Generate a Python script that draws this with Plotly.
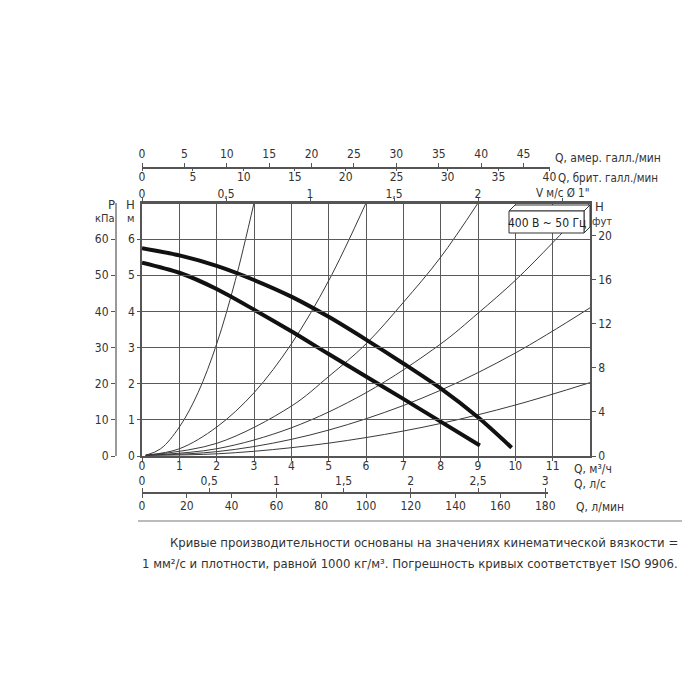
import plotly.graph_objects as go

# ---------------- data ----------------
q_ticks = list(range(0, 12))                      # Q, m3/h
h_ticks = list(range(0, 7))                       # H, m
p_ticks = [0, 10, 20, 30, 40, 50, 60]             # P, kPa
ft_ticks = [0, 4, 8, 12, 16, 20]                  # H, ft
us_gpm_ticks = [0, 5, 10, 15, 20, 25, 30, 35, 40, 45]
uk_gpm_ticks = [0, 5, 10, 15, 20, 25, 30, 35, 40]
v_ticks = [0, 0.5, 1, 1.5, 2, 2.5]
v_labels = ["0", "0,5", "1", "1,5", "2", ""]
lps_ticks = [0, 0.5, 1, 1.5, 2, 2.5, 3]
lps_labels = ["0", "0,5", "1", "1,5", "2", "2,5", "3"]
lpm_ticks = [0, 20, 40, 60, 80, 100, 120, 140, 160, 180]

pump_upper_q = [0, 1, 2, 3, 4, 5, 6, 7, 8, 9, 9.9]
pump_upper_h = [5.75, 5.55, 5.26, 4.87, 4.41, 3.85, 3.22, 2.56, 1.87, 1.07, 0.23]
pump_lower_q = [0, 1, 2, 3, 4, 5, 6, 7, 8, 9.05]
pump_lower_h = [5.35, 5.07, 4.62, 4.05, 3.45, 2.82, 2.20, 1.58, 0.95, 0.29]

sys1_q = [0.1, 0.5, 1, 1.5, 2, 2.5, 3.0]
sys1_h = [0.02, 0.2, 0.8, 1.75, 3.1, 4.86, 7.0]
sys2_q = [0.1, 1, 2, 3, 4, 5, 6]
sys2_h = [0.02, 0.2, 0.8, 1.75, 3.1, 4.85, 7.0]
sys3_q = [0.1, 2, 4, 5, 6, 7, 8, 9]
sys3_h = [0.02, 0.35, 1.38, 2.2, 3.1, 4.25, 5.5, 7.0]
sys4_q = [0.1, 2, 4, 6, 8, 9, 10, 11, 12]
sys4_h = [0.02, 0.2, 0.78, 1.75, 3.1, 3.95, 4.86, 5.9, 7.0]
sys5_q = [0.1, 2, 4, 6, 8, 10, 12]
sys5_h = [0.02, 0.12, 0.46, 1.03, 1.82, 2.85, 4.1]
sys6_q = [0.1, 2, 4, 6, 8, 10, 12]
sys6_h = [0.02, 0.06, 0.23, 0.51, 0.9, 1.41, 2.03]

# unit conversions (m3/h per unit)
US_GPM = 0.2271
UK_GPM = 0.2728
LPS = 3.6
LPM = 0.06
V_1IN = 4.5       # m3/h per m/s, as drawn on the chart
M_TO_FT = 3.28084

# ---------------- layout geometry (page pixels) ----------------
OFF = 8                # page body margin
W = H = 700 - OFF
X0, X1 = 142, 590      # plot area left/right
YB, YT = 456, 203      # plot area bottom/top
Q_MAX, H_MAX = 12, 7
PXQ = (X1 - X0) / Q_MAX


def fx(px):
    return (px - OFF) / W


def fy(py):
    return 1 - (py - OFF) / H


FONT = "Liberation Sans Narrow, DejaVu Sans Condensed, Arial Narrow, sans-serif"
TXT = "#333333"
AX = "#555555"
tickfont = dict(family=FONT, size=12, color=TXT)

fig = go.Figure()

sys_curves = [(sys1_q, sys1_h), (sys2_q, sys2_h), (sys3_q, sys3_h),
              (sys4_q, sys4_h), (sys5_q, sys5_h), (sys6_q, sys6_h)]
for q, h in sys_curves:
    fig.add_trace(go.Scatter(x=q, y=h, mode="lines",
                             line=dict(color="#3a3a3a", width=1, shape="spline", smoothing=1.0),
                             showlegend=False, hoverinfo="skip"))

for q, h in [(pump_upper_q, pump_upper_h), (pump_lower_q, pump_lower_h)]:
    fig.add_trace(go.Scatter(x=q, y=h, mode="lines",
                             line=dict(color="#111111", width=4, shape="spline", smoothing=0.8),
                             showlegend=False, hoverinfo="skip"))

# invisible helper traces so the extra axes get created
for xa, ya in [("x", "y2"), ("x", "y3"), ("x2", "y"), ("x3", "y"), ("x4", "y"), ("x5", "y"), ("x6", "y")]:
    fig.add_trace(go.Scatter(x=[0], y=[0], xaxis=xa, yaxis=ya, mode="markers",
                             marker=dict(opacity=0, size=1), showlegend=False, hoverinfo="skip"))

dom_x = [fx(X0), fx(X1)]
dom_y = [fy(YB), fy(YT)]

gpm_end_px = 550
lps_end_px = 548
q_gpm_end = (gpm_end_px - X0) / PXQ
q_lps_end = (lps_end_px - X0) / PXQ

common = dict(showgrid=False, zeroline=False, showline=True, linecolor=AX, linewidth=1.5,
              ticks="outside", ticklen=4, tickwidth=1.2, tickcolor=AX, tickfont=tickfont,
              fixedrange=True, automargin=False)

fig.update_layout(
    template="none",
    width=W, height=H,
    margin=dict(l=0, r=0, t=0, b=0, pad=0),
    paper_bgcolor="white", plot_bgcolor="rgba(0,0,0,0)",
    showlegend=False,
    xaxis=dict(domain=dom_x, range=[0, Q_MAX], anchor="y",
               showgrid=True, gridcolor="#5a5a5a", gridwidth=1.3,
               zeroline=False, showline=True, mirror=True, linecolor=AX, linewidth=1.5,
               tickvals=q_ticks, ticktext=[str(v) for v in q_ticks],
               ticks="outside", ticklen=3, tickcolor=AX, tickfont=tickfont,
               ticklabelstandoff=-5, fixedrange=True, automargin=False),
    yaxis=dict(domain=dom_y, range=[0, H_MAX], anchor="x",
               showgrid=True, gridcolor="#5a5a5a", gridwidth=1.3,
               zeroline=False, showline=True, linecolor=AX, linewidth=1.5,
               tickvals=h_ticks, ticktext=[str(v) for v in h_ticks],
               ticks="outside", ticklen=3, tickcolor=AX, tickfont=tickfont,
               fixedrange=True, automargin=False),
    yaxis2=dict(common, overlaying="y", side="left", anchor="free", position=fx(116),
                range=[0, H_MAX * 10], tickvals=p_ticks, linecolor="#9a9a9a", linewidth=2),
    yaxis3=dict(common, overlaying="y", side="right", anchor="x",
                range=[0, H_MAX * M_TO_FT], tickvals=ft_ticks),
    xaxis2=dict(common, domain=[fx(X0), fx(gpm_end_px)], anchor="free", position=fy(168),
                side="top", range=[0, q_gpm_end / US_GPM], tickvals=us_gpm_ticks),
    xaxis3=dict(common, domain=[fx(X0), fx(gpm_end_px)], anchor="free", position=fy(168),
                side="bottom", range=[0, q_gpm_end / UK_GPM], tickvals=uk_gpm_ticks,
                ticklen=2, ticklabelstandoff=-4),
    xaxis4=dict(common, domain=dom_x, anchor="free", position=fy(YT),
                side="top", range=[0, Q_MAX / V_1IN], tickvals=v_ticks, ticktext=v_labels,
                ticklabelstandoff=-5),
    xaxis5=dict(common, domain=[fx(X0), fx(lps_end_px)], anchor="free", position=fy(493),
                side="top", range=[0, q_lps_end / LPS], tickvals=lps_ticks, ticktext=lps_labels,
                ticklabelstandoff=-2),
    xaxis6=dict(common, domain=[fx(X0), fx(lps_end_px)], anchor="free", position=fy(493),
                side="bottom", range=[0, q_lps_end / LPM], tickvals=lpm_ticks,
                ticklabelstandoff=-2),
)


def ann(text, x, y, xanchor="left", size=12, color=TXT):
    fig.add_annotation(text=text, x=fx(x), y=fy(y), xref="paper", yref="paper",
                       xanchor=xanchor, yanchor="middle", showarrow=False,
                       font=dict(family=FONT, size=size, color=color))


# axis titles
ann("Q, амер. галл./мин", 553, 158)
ann("Q, брит. галл./мин", 556, 178, size=11.5)
ann("V м/с Ø 1\"", 591, 193, xanchor="right", size=11.5)
ann("Q, м³/ч", 572, 469)
ann("Q, л/с", 572, 484)
ann("Q, л/мин", 574, 507)
ann("P", 111, 204, xanchor="center", size=13)
ann("кПа", 105, 218, xanchor="center", size=11)
ann("H", 130, 204, xanchor="center", size=13)
ann("м", 130, 218, xanchor="center", size=11)
ann("H", 599, 206, xanchor="center", size=13)
ann("фут", 602, 221, xanchor="center", size=11)

# 3D label box
bx0, bx1, by0, by1, d = 509, 584, 211, 233, 6
line_k = dict(color="#333333", width=1)
fig.add_shape(type="path", xref="paper", yref="paper",
              path=f"M {fx(bx0)} {fy(by0)} L {fx(bx0+d)} {fy(by0-d)} L {fx(bx1+d)} {fy(by0-d)} L {fx(bx1)} {fy(by0)} Z",
              fillcolor="white", line=line_k)
fig.add_shape(type="path", xref="paper", yref="paper",
              path=f"M {fx(bx1)} {fy(by0)} L {fx(bx1+d)} {fy(by0-d)} L {fx(bx1+d)} {fy(by1-d)} L {fx(bx1)} {fy(by1)} Z",
              fillcolor="white", line=line_k)
fig.add_shape(type="rect", xref="paper", yref="paper",
              x0=fx(bx0), x1=fx(bx1), y0=fy(by1), y1=fy(by0),
              fillcolor="white", line=line_k)
ann("400 В ~ 50 Гц", (bx0 + bx1) / 2, (by0 + by1) / 2 + 1, xanchor="center", size=12, color="#222222")

# separator and caption
fig.add_shape(type="line", xref="paper", yref="paper",
              x0=fx(138), x1=fx(682), y0=fy(521), y1=fy(521),
              line=dict(color="#bbbbbb", width=2))
ann("Кривые производительности основаны на значениях кинематической вязкости =", 680, 542,
    xanchor="right", size=13, color="#333333")
ann("1 мм²/с и плотности, равной 1000 кг/м³. Погрешность кривых соответствует ISO 9906.", 680, 563,
    xanchor="right", size=13, color="#333333")

fig.write_html("out.html")
